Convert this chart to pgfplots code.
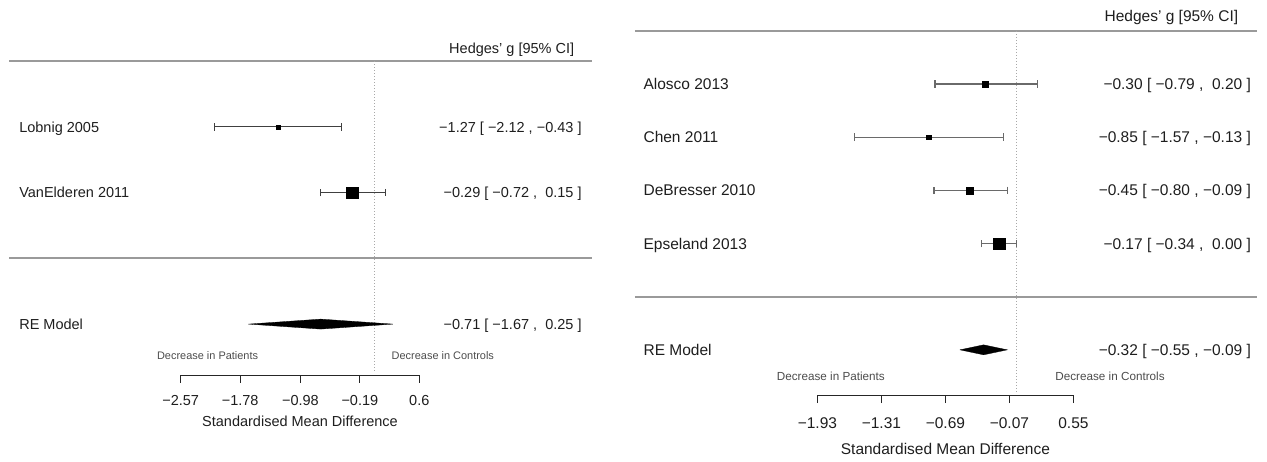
\documentclass[border=0pt]{standalone}
\usepackage{fontspec}
\setmainfont{Liberation Sans}
\usepackage{pgfplots}
\pgfplotsset{compat=1.18}

\definecolor{sepgray}{HTML}{9A9A9A}
\definecolor{refgray}{HTML}{A8A8A8}
\definecolor{txt}{HTML}{1E1E1E}
\definecolor{ciL}{HTML}{404040}
\definecolor{ciR}{HTML}{6A6A6A}

\newcommand\LF{\fontsize{14.5bp}{17bp}\selectfont}
\newcommand\RF{\fontsize{15.5bp}{18bp}\selectfont}
\newcommand\LS{\fontsize{10.95bp}{13bp}\selectfont}
\newcommand\RS{\fontsize{11.7bp}{14bp}\selectfont}

\pgfplotsset{
  forest/.style={
    scale only axis, clip=false, enlargelimits=false,
    axis x line*=bottom, axis y line=none,
    tick align=outside,
    x axis line style={line width=0.8bp, black!85},
    every tick/.style={line width=0.8bp, black!85},
    xticklabel style={anchor=base, text=txt},
    xlabel style={at={(axis description cs:0.5,0)}, anchor=base, text=txt},
  },
  % study estimate (square) with its 95% CI as x error bars
  studyL/.style={only marks, mark=square*, mark size=#1,
    mark options={draw=black, fill=black},
    error bars/x dir=both, error bars/x explicit, error bars/error mark=|,
    error bars/error bar style={ciL, line width=0.75bp},
    error bars/error mark options={mark size=3.8bp, draw=ciL, line width=0.75bp}},
  studyR/.style={only marks, mark=square*, mark size=#1,
    mark options={draw=black, fill=black},
    error bars/x dir=both, error bars/x explicit, error bars/error mark=|,
    error bars/error bar style={ciR, line width=1.3bp},
    error bars/error mark options={mark size=3.8bp, draw=ciR, line width=1.2bp}},
}

\tikzset{
  lblL/.style={anchor=base west, yshift=-5.2bp, inner sep=0pt, text=txt, font=\LF},
  valL/.style={anchor=base east, yshift=-5.2bp, inner sep=0pt, text=txt, font=\LF},
  lblR/.style={anchor=base west, yshift=-5.55bp, inner sep=0pt, text=txt, font=\RF},
  valR/.style={anchor=base east, yshift=-5.55bp, inner sep=0pt, text=txt, font=\RF},
}

\begin{document}
\begin{tikzpicture}
\useasboundingbox (0,0) rectangle (1267bp,462bp);

% ---------------- left forest plot ----------------
\begin{axis}[forest,
  at={(180.7bp,87bp)}, anchor=south west,
  width=238.6bp, height=327.1bp,
  xmin=-2.57, xmax=0.6, ymin=-1.774, ymax=3.2,
  major tick length=7.7bp,
  xtick={-2.57,-1.78,-0.98,-0.19,0.6},
  xticklabels={−2.57,−1.78,−0.98,−0.19,0.6},
  xticklabel style={font=\LF, yshift=-22.3bp},
  xlabel={Standardised Mean Difference},
  xlabel style={font=\LF, yshift=-51.9bp},
]
  % separators and reference line
  \addplot[sepgray, line width=1.7bp] coordinates {(-4.847,3) (2.891,3)};
  \addplot[sepgray, line width=1.7bp] coordinates {(-4.847,0) (2.891,0)};
  \addplot[refgray, line width=0.6bp, dash pattern=on 1bp off 2bp] coordinates {(0,3) (0,-1.73)};

  % studies: estimate with 95% CI
  \addplot[studyL=2bp] coordinates {(-1.27,2) += (0.84,0) -= (0.85,0)};
  \addplot[studyL=5.8bp] coordinates {(-0.29,1) += (0.44,0) -= (0.43,0)};

  % pooled estimate
  \addplot[fill=black, draw=black, line width=0.3bp]
    coordinates {(-1.67,-1) (-0.71,-0.924) (0.25,-1) (-0.71,-1.076) (-1.67,-1)};

  \node[valL] at (axis cs:2.660,3.193) {Hedges' g [95\% CI]};
  \node[lblL] at (axis cs:-4.717,2) {Lobnig 2005};
  \node[lblL] at (axis cs:-4.717,1) {VanElderen 2011};
  \node[lblL] at (axis cs:-4.717,-1) {RE Model};
  \node[valL] at (axis cs:2.758,2) {−1.27 [ −2.12 , −0.43 ]};
  \node[valL] at (axis cs:2.758,1) {−0.29 [ −0.72 ,~~0.15 ]};
  \node[valL] at (axis cs:2.758,-1) {−0.71 [ −1.67 ,~~0.25 ]};
  \node[anchor=base, yshift=-3.9bp, inner sep=0pt, text=black!70, font=\LS]
    at (axis cs:-2.213,-1.486) {Decrease in Patients};
  \node[anchor=base, yshift=-3.9bp, inner sep=0pt, text=black!70, font=\LS]
    at (axis cs:0.913,-1.486) {Decrease in Controls};
\end{axis}

% ---------------- right forest plot ----------------
\begin{axis}[forest,
  at={(817.4bp,67bp)}, anchor=south west,
  width=256bp, height=379.95bp,
  xmin=-1.93, xmax=0.55, ymin=-1.85, ymax=5.3,
  major tick length=8bp,
  xtick={-1.93,-1.31,-0.69,-0.07,0.55},
  xticklabels={−1.93,−1.31,−0.69,−0.07,0.55},
  xticklabel style={font=\RF, yshift=-25.3bp},
  xlabel={Standardised Mean Difference},
  xlabel style={font=\RF, yshift=-59.6bp},
]
  \addplot[sepgray, line width=1.7bp] coordinates {(-3.698,5) (2.327,5)};
  \addplot[sepgray, line width=1.7bp] coordinates {(-3.698,0) (2.327,0)};
  \addplot[refgray, line width=0.6bp, dash pattern=on 1bp off 2bp] coordinates {(0,5) (0,-1.81)};

  \addplot[studyR=3bp] coordinates {(-0.30,4) += (0.50,0) -= (0.49,0)};
  \addplot[studyR=2.3bp] coordinates {(-0.85,3) += (0.72,0) -= (0.72,0)};
  \addplot[studyR=3.5bp] coordinates {(-0.45,2) += (0.36,0) -= (0.35,0)};
  \addplot[studyR=5.8bp] coordinates {(-0.17,1) += (0.17,0) -= (0.17,0)};

  \addplot[fill=black, draw=black, line width=0.3bp]
    coordinates {(-0.55,-1) (-0.32,-0.906) (-0.09,-1) (-0.32,-1.094) (-0.55,-1)};

  \node[valR] at (axis cs:2.148,5.28) {Hedges' g [95\% CI]};
  \node[lblR] at (axis cs:-3.616,4) {Alosco 2013};
  \node[lblR] at (axis cs:-3.616,3) {Chen 2011};
  \node[lblR] at (axis cs:-3.616,2) {DeBresser 2010};
  \node[lblR] at (axis cs:-3.616,1) {Epseland 2013};
  \node[lblR] at (axis cs:-3.616,-1) {RE Model};
  \node[valR] at (axis cs:2.271,4) {−0.30 [ −0.79 ,~~0.20 ]};
  \node[valR] at (axis cs:2.271,3) {−0.85 [ −1.57 , −0.13 ]};
  \node[valR] at (axis cs:2.271,2) {−0.45 [ −0.80 , −0.09 ]};
  \node[valR] at (axis cs:2.271,1) {−0.17 [ −0.34 ,~~0.00 ]};
  \node[valR] at (axis cs:2.271,-1) {−0.32 [ −0.55 , −0.09 ]};
  \node[anchor=base, yshift=-4.2bp, inner sep=0pt, text=black!70, font=\RS]
    at (axis cs:-1.80,-1.505) {Decrease in Patients};
  \node[anchor=base, yshift=-4.2bp, inner sep=0pt, text=black!70, font=\RS]
    at (axis cs:0.905,-1.505) {Decrease in Controls};
\end{axis}
\end{tikzpicture}
\end{document}
